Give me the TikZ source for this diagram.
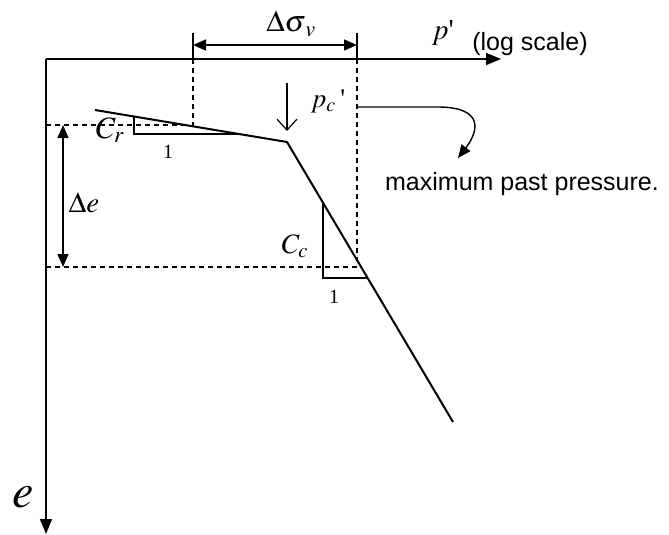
\documentclass[tikz,border=0pt]{standalone}
\usepackage{mathptmx}
\usepackage{fontspec}
\setmainfont{Liberation Serif}
\setsansfont{Liberation Sans}
\usetikzlibrary{arrows.meta}

\begin{document}
\begin{tikzpicture}[
  x=1pt, y=-1pt,
  axis/.style={line width=1.6pt},
  curve/.style={line width=2pt},
  guide/.style={line width=1.5pt, dash pattern=on 5pt off 4pt},
  tri/.style={line width=1.5pt},
  dim/.style={line width=1.5pt, {Triangle[length=13pt,width=11pt]}-{Triangle[length=13pt,width=11pt]}},
  lbl/.style={inner sep=0pt, font=\fontsize{27}{30}\selectfont},
  one/.style={inner sep=0pt, font=\fontsize{20}{24}\selectfont},
  note/.style={inner sep=0pt, font=\sffamily\fontsize{25}{30}\selectfont}
]
  \useasboundingbox (0,0) rectangle (669,535);
  % axes
  \coordinate (O) at (46,59);
  \coordinate (xend) at (501,59);
  \coordinate (yend) at (46,534);
  \draw[axis,-{Triangle[length=15pt,width=12pt]}] (O) -- (xend);
  \draw[axis,-{Triangle[length=15pt,width=12pt]}] (O) -- (yend);
  % e-log p' line
  \coordinate (r0) at (95,110);
  \coordinate (pc) at (287,142);
  \coordinate (v1) at (453,422);
  \draw[curve] (r0) -- (pc) -- (v1);
  % guide lines
  \coordinate (a0) at (193,33);
  \coordinate (a1) at (193,59);
  \coordinate (a2) at (193,126);
  \coordinate (b0) at (357,33);
  \coordinate (b1) at (357,59);
  \coordinate (b2) at (357,260);
  \coordinate (h1) at (46,125);
  \coordinate (h2) at (186,125);
  \coordinate (k1) at (46,267);
  \coordinate (k2) at (361,267);
  \draw[axis] (a0) -- (a1);
  \draw[axis] (b0) -- (b1);
  \draw[guide] (a1) -- (a2);
  \draw[guide] (b1) -- (b2);
  \draw[guide] (h1) -- (h2);
  \draw[guide] (k1) -- (k2);
  % dimension arrows
  \coordinate (s1) at (193,45);
  \coordinate (s2) at (357,45);
  \draw[dim] (s1) -- (s2);
  \coordinate (d1) at (63,125);
  \coordinate (d2) at (63,267);
  \draw[dim] (d1) -- (d2);
  % slope triangles
  \coordinate (cr1) at (134,116.5);
  \coordinate (cr2) at (134,134);
  \coordinate (cr3) at (240,134);
  \draw[tri] (cr1) -- (cr2) -- (cr3);
  \coordinate (cc1) at (323,203);
  \coordinate (cc2) at (323,278);
  \coordinate (cc3) at (368,278);
  \draw[tri] (cc1) -- (cc2) -- (cc3);
  % pointer to p_c'
  \coordinate (m0) at (287,83);
  \coordinate (m1) at (287,131);
  \draw[line width=1.2pt,-{Straight Barb[length=11pt,width=20pt,line width=1.2pt]}] (m0) -- (m1);
  \coordinate (n0) at (357,107);
  \coordinate (n1) at (458,158);
  \draw[line width=1.4pt,-{Triangle[length=13pt,width=11pt]}] (n0) -- (440,107)
    .. controls (485,108) and (478,132) .. (n1);
  % labels
  \node[lbl, font=\fontsize{30}{34}\selectfont, anchor=base] (dsig) at (291,32) {$\Delta\sigma_{\,v}$};
  \node[lbl, font=\fontsize{29}{34}\selectfont] (pp) at (443,33) {$p$\textquotesingle};
  \node[note] (logs) at (530,44) {(log scale)};
  \node[lbl] (pcl) at (328,101) {$p_{c}$\,\textquotesingle};
  \node[note] (maxp) at (522,184) {maximum past pressure.};
  \node[lbl, font=\fontsize{31}{36}\selectfont] (crl) at (110,130) {$C_{r}$};
  \node[one] (one1) at (168,152) {1};
  \node[lbl, font=\fontsize{29}{34}\selectfont] (del) at (84,203) {$\Delta e$};
  \node[lbl, font=\fontsize{28}{34}\selectfont] (ccl) at (295,246) {$C_{c}$};
  \node[one] (one2) at (334,297) {1};
  \node[lbl, font=\fontsize{48}{54}\selectfont] (el) at (23,497) {$e$};
\end{tikzpicture}
\end{document}
